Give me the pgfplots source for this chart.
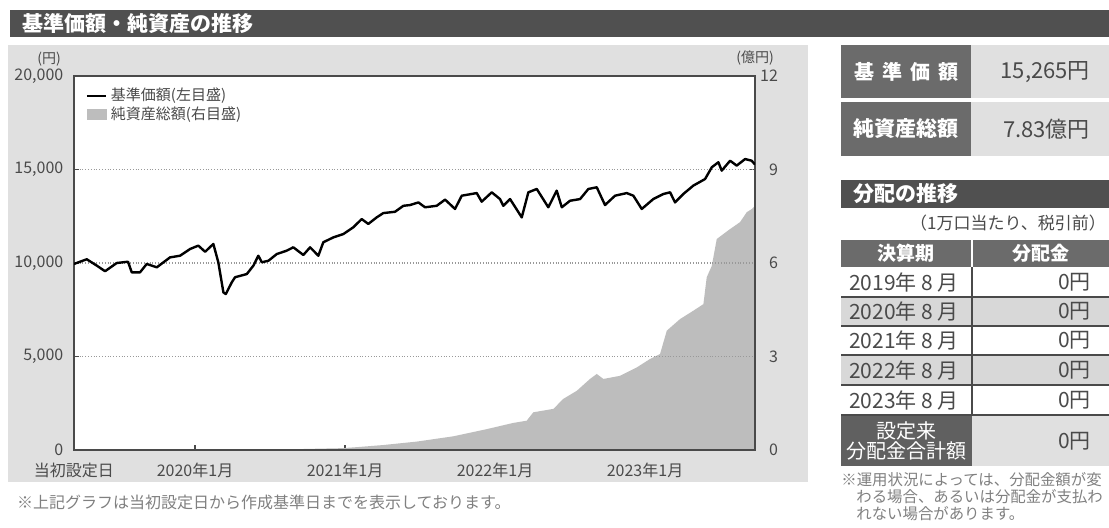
\documentclass[border=0pt]{standalone}
\usepackage{fontspec}
\setmainfont{Noto Sans CJK JP}
\usepackage{pgfplots}
\usepackage{pgfplotstable}
\pgfplotsset{compat=1.18}

\definecolor{hdrgray}{HTML}{505050}
\definecolor{panelgray}{HTML}{E0E0E0}
\definecolor{areagray}{HTML}{BDBDBD}
\definecolor{cellgray}{HTML}{6B6B6B}
\definecolor{rowgray}{HTML}{D8D8D8}
\definecolor{txtgray}{HTML}{4A4A4A}

\newcommand{\fs}[1]{\fontsize{#1pt}{#1pt}\selectfont}

% 基準価額 (円)
\pgfplotstableread{
year nav
2019.193 9950
2019.278 10200
2019.345 9860
2019.400 9560
2019.478 10000
2019.553 10070
2019.578 9500
2019.633 9500
2019.678 9950
2019.745 9770
2019.833 10300
2019.900 10390
2019.967 10750
2020.022 10930
2020.067 10600
2020.122 11020
2020.155 10040
2020.189 8430
2020.205 8340
2020.245 8970
2020.267 9240
2020.345 9410
2020.389 9860
2020.422 10390
2020.445 10040
2020.489 10120
2020.545 10480
2020.611 10660
2020.655 10840
2020.722 10430
2020.767 10840
2020.822 10390
2020.855 11110
2020.922 11370
2020.989 11550
2021.055 11910
2021.111 12350
2021.155 12090
2021.211 12440
2021.255 12670
2021.333 12740
2021.389 13060
2021.433 13100
2021.489 13240
2021.533 12980
2021.611 13060
2021.667 13390
2021.733 12890
2021.778 13600
2021.878 13740
2021.911 13280
2021.978 13780
2022.033 13420
2022.055 13060
2022.100 13420
2022.178 12440
2022.222 13780
2022.278 13960
2022.355 12980
2022.411 13870
2022.445 12980
2022.500 13330
2022.567 13420
2022.622 13960
2022.678 14050
2022.733 13100
2022.800 13600
2022.878 13740
2022.922 13600
2022.978 12890
2023.055 13420
2023.122 13690
2023.167 13780
2023.200 13240
2023.255 13690
2023.322 14140
2023.400 14490
2023.445 15120
2023.489 15390
2023.511 14940
2023.567 15470
2023.611 15210
2023.667 15560
2023.711 15470
2023.733 15265
}\navdata

% 純資産総額 (億円)
\pgfplotstableread{
year aum
2019.193 0.00
2020.500 0.01
2020.700 0.03
2020.987 0.06
2021.100 0.10
2021.255 0.16
2021.478 0.27
2021.722 0.44
2021.945 0.67
2022.122 0.87
2022.211 0.94
2022.255 1.21
2022.389 1.32
2022.455 1.64
2022.545 1.90
2022.633 2.28
2022.678 2.44
2022.722 2.28
2022.833 2.38
2022.945 2.65
2023.033 2.92
2023.100 3.08
2023.145 3.83
2023.233 4.20
2023.322 4.47
2023.389 4.68
2023.411 5.54
2023.445 5.91
2023.478 6.77
2023.567 7.09
2023.633 7.31
2023.678 7.63
2023.711 7.73
2023.733 7.83
}\aumdata

\pgfplotsset{
  fundaxis/.style={
    at={(ao)}, anchor=south west, scale only axis,
    width=340.5pt, height=187pt,
    xmin=2019.193, xmax=2023.733,
    tick align=inside, major tick length=2.5pt,
    axis line style={draw=txtgray, line width=1pt},
    tick style={draw=txtgray, line width=0.8pt},
    ticklabel style={font=\fs{8}, text=txtgray},
    /pgf/number format/assume math mode=true,
  }
}

\begin{document}
\begin{tikzpicture}[x=0.5pt,y=-0.5pt]
\clip (0,0) rectangle (1109,527);
\fill[white] (0,0) rectangle (1109,527);

% title bar
\fill[hdrgray] (10,10) rectangle (1109,37);
\node[anchor=west,text=white,font=\fs{10.5}\bfseries] at (15,24) {基準価額・純資産の推移};

% chart panel
\fill[panelgray] (8,45) rectangle (808,482);
\coordinate (ao) at (74,450);

\begin{axis}[fundaxis,
    ymin=0, ymax=12, ytick={0,3,6,9,12}, ytick pos=right, yticklabel pos=right,
    yticklabel style={anchor=east, xshift=15pt},
    xtick={2020,2021,2022,2023}, xtick pos=left,
    xticklabels={2020年1月,2021年1月,2022年1月,2023年1月},
    xticklabel style={yshift=-3pt},
    extra x ticks={2019.193}, extra x tick labels={当初設定日},
    extra x tick style={major tick length=0pt},
    axis background/.style={fill=white},
  ]
  \addplot[fill=areagray, draw=none] table[x=year,y=aum]{\aumdata} \closedcycle;
\end{axis}

\begin{axis}[fundaxis,
    ymin=0, ymax=20000, ytick={0,5000,10000,15000,20000}, ytick pos=left,
    scaled y ticks=false,
    yticklabel style={/pgf/number format/.cd,1000 sep={,}, /tikz/.cd, xshift=-1.8pt},
    xtick=\empty,
    ymajorgrids, grid style={densely dotted, draw=gray!80, line width=0.6pt},
    legend cell align=left,
    legend style={at={(rel axis cs:0.014,0.985)}, anchor=north west,
      draw=none, fill=none, font=\fs{7.5}, text=txtgray,
      row sep=-2.5pt, inner sep=1pt},
  ]
  \addplot[black, line width=1.2pt, line join=round,
    legend image code/.code={\draw[black,line width=1pt] (0pt,0pt) -- (9.5pt,0pt);}]
    table[x=year,y=nav]{\navdata};
  \addlegendentry{基準価額(左目盛)}
  \addlegendimage{legend image code/.code={\fill[areagray] (0pt,-2.5pt) rectangle (9.5pt,2.5pt);}}
  \addlegendentry{純資産総額(右目盛)}
\end{axis}

\node[anchor=east,font=\fs{7},text=txtgray] at (68,59) {(円)};
\node[anchor=east,font=\fs{7},text=txtgray] at (781,58) {(億円)};

\node[anchor=west,font=\fs{8},text=gray] at (10,502)
  {※上記グラフは当初設定日から作成基準日までを表示しております。};

% right panel: current values
\fill[cellgray] (841,45) rectangle (971,98);
\fill[panelgray] (971,45) rectangle (1109,98);
\fill[cellgray] (841,102) rectangle (971,156);
\fill[panelgray] (971,102) rectangle (1109,156);
\node[text=white,font=\fs{10}\bfseries] at (906,72)
  {基\hspace{4pt}準\hspace{4pt}価\hspace{4pt}額};
\node[text=white,font=\fs{10.5}\bfseries] at (906,129) {純資産総額};
\node[anchor=east,text=txtgray,font=\fs{11}] at (1097,72) {15,265円};
\node[anchor=east,text=txtgray,font=\fs{11}] at (1097,129) {7.83億円};

% distribution table
\fill[hdrgray] (841,180) rectangle (1109,208);
\node[anchor=west,text=white,font=\fs{10.5}\bfseries] at (846,194) {分配の推移};
\node[anchor=east,text=txtgray,font=\fs{8.5}] at (1113,223) {（1万口当たり、税引前）};

\fill[cellgray] (841,240) rectangle (971,267);
\fill[cellgray] (973,240) rectangle (1109,267);
\node[text=white,font=\fs{9.5}\bfseries] at (906,253.5) {決算期};
\node[text=white,font=\fs{9.5}\bfseries] at (1041,253.5) {分配金};

\fill[rowgray] (841,297) rectangle (1109,326);
\fill[rowgray] (841,355) rectangle (1109,385);
\foreach \yy in {297,326,355,385}
  \draw[txtgray,line width=0.9pt] (841,\yy) -- (1109,\yy);
\draw[txtgray,line width=0.9pt] (972,267) -- (972,415);

\foreach \yy/\lab in {282/2019,311.5/2020,340.5/2021,370/2022,400/2023}{
  \node[text=txtgray,font=\fs{10.5}] at (904,\yy) {\lab 年 8 月};
  \node[anchor=east,text=txtgray,font=\fs{10.5}] at (1098,\yy) {0円};
}

\fill[cellgray!90!black] (841,415) rectangle (972,466);
\fill[panelgray] (972,415) rectangle (1109,466);
\draw[txtgray,line width=1.2pt] (841,415) -- (1109,415);
\node[text=white,font=\fs{10},align=center,inner sep=0pt] at (906,441)
  {\baselineskip=10.5pt 設定来\\分配金合計額};
\node[anchor=east,text=txtgray,font=\fs{10.5}] at (1098,441) {0円};

\node[anchor=west,font=\fs{7.7},text=gray,inner sep=0pt] at (841,480) {※運用状況によっては、分配金額が変};
\node[anchor=west,font=\fs{7.7},text=gray,inner sep=0pt] at (856,497) {わる場合、あるいは分配金が支払わ};
\node[anchor=west,font=\fs{7.7},text=gray,inner sep=0pt] at (856,514) {れない場合があります。};
\end{tikzpicture}
\end{document}
